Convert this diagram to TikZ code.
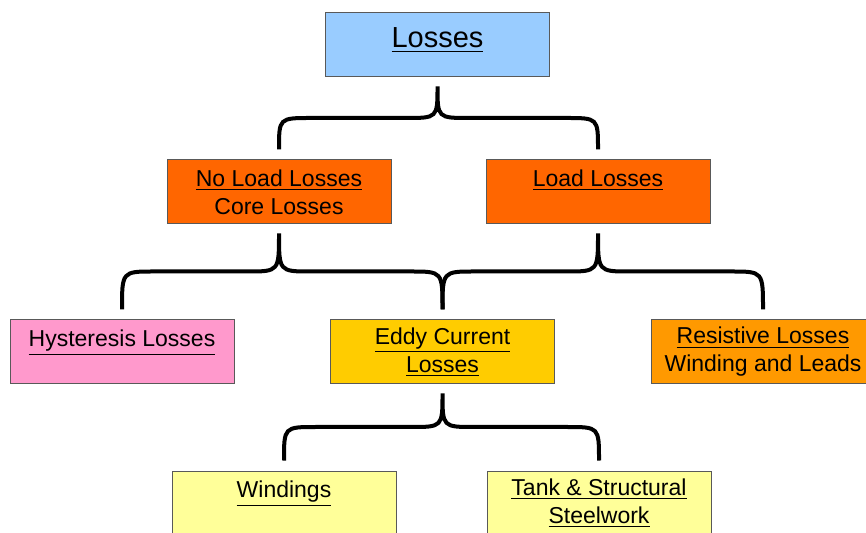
\documentclass[tikz,border=0pt]{standalone}
\usepackage{fontspec}
\setmainfont{Liberation Sans}
\usepackage{tikz}
\usetikzlibrary{calc}
\definecolor{lossblue}{HTML}{99CCFF}
\definecolor{lossorange}{HTML}{FF6600}
\definecolor{losspink}{HTML}{FF99CC}
\definecolor{lossgold}{HTML}{FFCC00}
\definecolor{lossamber}{HTML}{FF9900}
\definecolor{lossyellow}{HTML}{FFFF99}
\newcommand{\lossbrace}[3]{%
  \coordinate (t) at ([yshift=-4.5pt]#1.south);
  \coordinate (l) at ([yshift=5pt]#2.north);
  \coordinate (r) at ([yshift=5pt]#3.north);
  \coordinate (m) at ($(t)!0.5!(l)$);
  \draw[brace] (l) .. controls (l |- m) .. ($(l |- m)+(16pt,0)$) -- ($(t |- m)+(-16pt,0)$)
    .. controls (t |- m) .. (t) .. controls (t |- m) .. ($(t |- m)+(16pt,0)$)
    -- ($(r |- m)+(-16pt,0)$) .. controls (r |- m) .. (r);}

\begin{document}
\begin{tikzpicture}[x=0.5pt,y=-0.5pt,
    lossbox/.style={draw=black!65,line width=0.5pt,minimum width=112pt,minimum height=32pt,
      align=center,inner sep=2pt,font=\fontsize{11.5}{14}\selectfont},
    brace/.style={line width=2pt}]
        \useasboundingbox (0,0) rectangle (866,533);
        \node[lossbox,fill=lossblue,font=\fontsize{14.5}{17}\selectfont] (losses) at (437.5,45) {\underline{Losses}\\[-10pt]~};
        \node[lossbox,fill=lossorange] (noload) at (279,192) {\underline{No Load Losses}\\Core Losses};
        \node[lossbox,fill=lossorange] (load) at (598,192) {\underline{Load Losses}\\~};
        \node[lossbox,fill=losspink] (hyst) at (122,352) {\underline{Hysteresis Losses}\\~};
        \node[lossbox,fill=lossgold] (eddy) at (442.5,352) {\underline{Eddy Current}\\\underline{Losses}};
        \node[lossbox,fill=lossamber] (resist) at (763,352) {\underline{Resistive Losses}\\Winding and Leads};
        \node[lossbox,fill=lossyellow] (wind) at (284,503) {\underline{Windings}\\~};
        \node[lossbox,fill=lossyellow] (tank) at (599,503) {\underline{Tank \& Structural}\\\underline{Steelwork}};
        \lossbrace{losses}{noload}{load}
        \lossbrace{noload}{hyst}{eddy}
        \lossbrace{load}{eddy}{resist}
        \lossbrace{eddy}{wind}{tank}
\end{tikzpicture}
\end{document}
